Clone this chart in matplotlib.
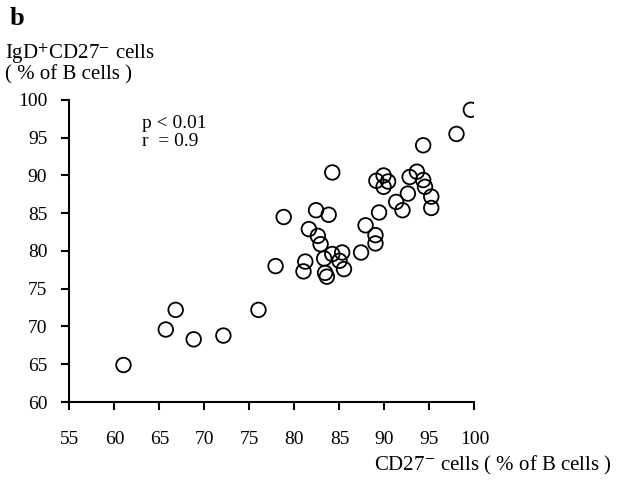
import matplotlib
matplotlib.use("Agg")
import matplotlib.pyplot as plt

plt.rcParams['font.family'] = ['Liberation Serif', 'DejaVu Serif']
plt.rcParams['mathtext.fontset'] = 'stix'

# CD27- cells (% of B cells) vs IgD+CD27- cells (% of B cells)
cd27_neg = [61.0, 65.7, 66.8, 68.8, 72.1, 76.0, 77.9,
            78.8, 82.4, 83.8, 84.2,
            81.6, 82.6, 82.9,
            81.2, 81.0, 83.3, 84.2, 85.3, 85.0, 85.5, 83.4, 83.6,
            87.4, 87.9, 89.0, 89.0, 89.4,
            89.1, 89.9, 90.4, 89.9,
            91.3, 92.0, 92.6, 92.8, 93.6, 94.3, 94.5, 95.2, 95.2,
            94.3, 98.0, 99.6]
igd_cd27_neg = [64.9, 69.6, 72.2, 68.3, 68.8, 72.2, 78.0,
                84.5, 85.4, 84.8, 90.4,
                82.9, 82.0, 80.9,
                78.6, 77.3, 79.0, 79.6, 79.8, 78.7, 77.6, 77.1, 76.6,
                79.8, 83.4, 82.1, 81.0, 85.1,
                89.3, 90.0, 89.2, 88.5,
                86.5, 85.4, 87.6, 89.8, 90.5, 89.4, 88.5, 87.2, 85.7,
                94.0, 95.5, 98.7]

x_ticks = [55, 60, 65, 70, 75, 80, 85, 90, 95, 100]
y_ticks = [60, 65, 70, 75, 80, 85, 90, 95, 100]

fig = plt.figure(figsize=(6.17, 4.83), dpi=100)
ax = fig.add_axes([0.1126, 0.1677, 0.6564, 0.6253])

ax.scatter(cd27_neg, igd_cd27_neg, s=110, facecolors='none',
           edgecolors='black', linewidths=1.3, zorder=3)

ax.set_xlim(55, 100)
ax.set_ylim(60, 100)
ax.set_xticks(x_ticks)
ax.set_yticks(y_ticks)
ax.spines['top'].set_visible(False)
ax.spines['right'].set_visible(False)
for s in ['left', 'bottom']:
    ax.spines[s].set_linewidth(1.5)
ax.tick_params(axis='both', direction='out', length=6, width=1.5,
               labelsize=14)
ax.tick_params(axis='x', pad=15)
ax.tick_params(axis='y', pad=10)

ax.text(63.1, 98.0, "p < 0.01\nr  = 0.9", fontsize=14, va='top',
        ha='left', linespacing=1.05)

fig.text(0.016, 0.985, "b", fontsize=19, fontweight='bold', va='top')
fig.text(0.008, 0.915, "IgD$^{+}$CD27$^{-}$ cells\n( % of B cells )",
         fontsize=15, va='top', ha='left', linespacing=0.95)
fig.text(0.992, 0.012, "CD27$^{-}$ cells ( % of B cells )", fontsize=15,
         va='bottom', ha='right')

fig.savefig("out.png", dpi=100)
